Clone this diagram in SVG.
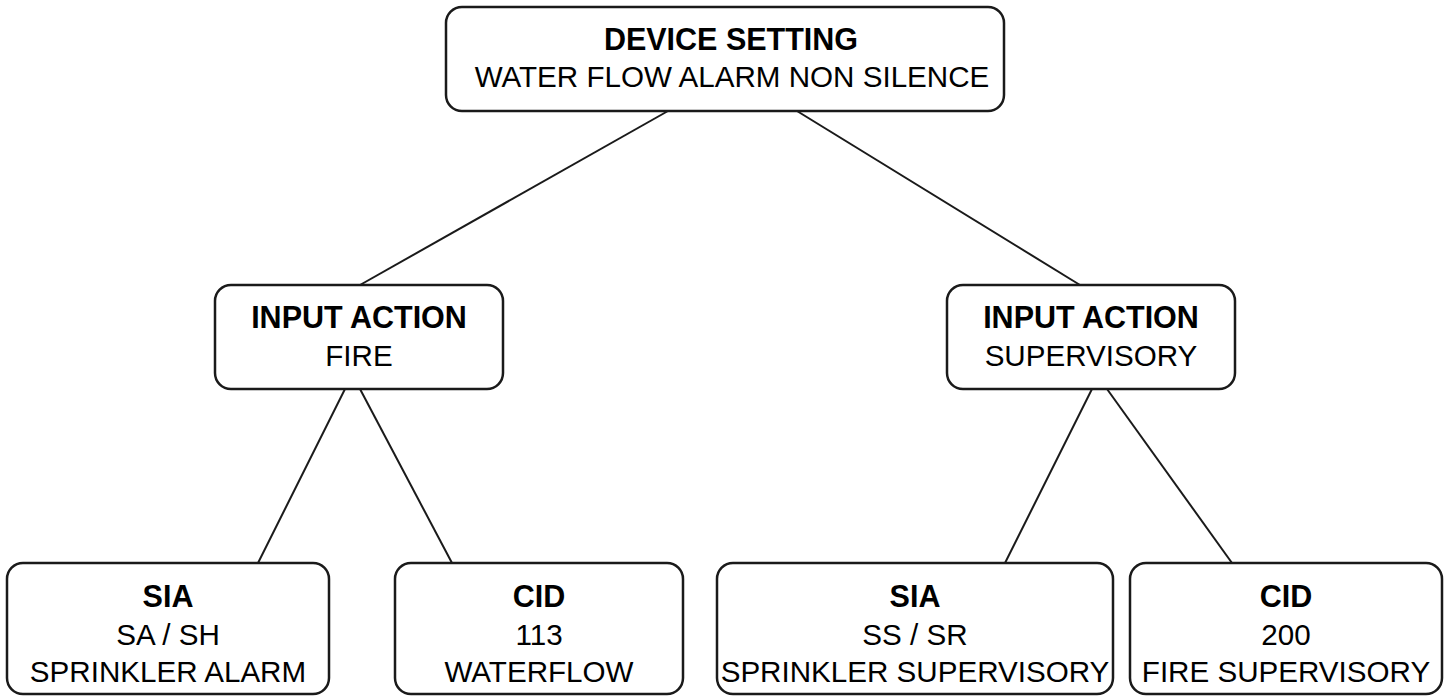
<svg xmlns="http://www.w3.org/2000/svg" width="1447" height="696" viewBox="0 0 1447 696">
  <style>
    .box { fill: #ffffff; stroke: #1a1a1a; stroke-width: 2.5; }
    .link { stroke: #1a1a1a; stroke-width: 2; fill: none; }
    text { font-family: "Liberation Sans", Arial, sans-serif; fill: #000000; text-anchor: middle; }
    .title { font-size: 30.5px; font-weight: bold; }
    .body { font-size: 29.6px; }
  </style>
  <rect width="1447" height="696" fill="#ffffff"/>

  <g id="connectors">
    <line class="link" x1="668" y1="111" x2="360" y2="285"/>
    <line class="link" x1="797" y1="111" x2="1080" y2="285"/>
    <line class="link" x1="345" y1="389" x2="258" y2="563"/>
    <line class="link" x1="360" y1="389" x2="452" y2="563"/>
    <line class="link" x1="1092" y1="389" x2="1005" y2="563"/>
    <line class="link" x1="1107" y1="389" x2="1232" y2="563"/>
  </g>

  <g id="device-setting">
    <rect class="box" x="446" y="7" width="558" height="104" rx="16"/>
    <text class="title" x="731" y="50">DEVICE SETTING</text>
    <text class="body" x="732" y="87">WATER FLOW ALARM NON SILENCE</text>
  </g>

  <g id="input-fire">
    <rect class="box" x="215" y="285" width="288" height="104" rx="16"/>
    <text class="title" x="359" y="328">INPUT ACTION</text>
    <text class="body" x="359" y="366">FIRE</text>
  </g>

  <g id="input-supervisory">
    <rect class="box" x="947" y="285" width="288" height="104" rx="16"/>
    <text class="title" x="1091" y="328">INPUT ACTION</text>
    <text class="body" x="1091" y="366">SUPERVISORY</text>
  </g>

  <g id="sia-fire">
    <rect class="box" x="7" y="563" width="322" height="131" rx="16"/>
    <text class="title" x="168" y="607">SIA</text>
    <text class="body" x="168" y="645">SA / SH</text>
    <text class="body" x="168" y="682">SPRINKLER ALARM</text>
  </g>

  <g id="cid-fire">
    <rect class="box" x="395" y="563" width="288" height="131" rx="16"/>
    <text class="title" x="539" y="607">CID</text>
    <text class="body" x="539" y="645">113</text>
    <text class="body" x="539" y="682">WATERFLOW</text>
  </g>

  <g id="sia-supervisory">
    <rect class="box" x="717" y="563" width="396" height="131" rx="16"/>
    <text class="title" x="915" y="607">SIA</text>
    <text class="body" x="915" y="645">SS / SR</text>
    <text class="body" x="915" y="682">SPRINKLER SUPERVISORY</text>
  </g>

  <g id="cid-supervisory">
    <rect class="box" x="1130" y="563" width="312" height="131" rx="16"/>
    <text class="title" x="1286" y="607">CID</text>
    <text class="body" x="1286" y="645">200</text>
    <text class="body" x="1286" y="682">FIRE SUPERVISORY</text>
  </g>
</svg>
